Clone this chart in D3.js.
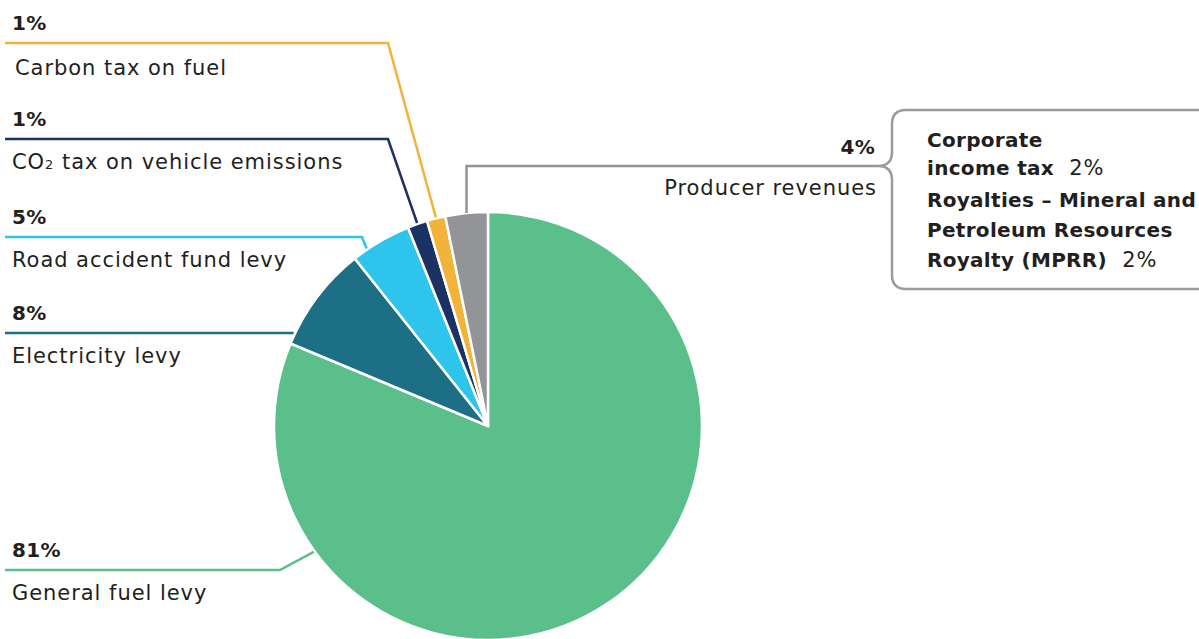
<!DOCTYPE html>
<html>
<head>
<meta charset="utf-8">
<script src="https://cdn.jsdelivr.net/npm/d3@7"></script>
<style>
  html, body { margin: 0; padding: 0; background: #fff; }
  svg { display: block; }
  text { font-family: "DejaVu Sans", sans-serif; fill: #231f20; font-size: 21px; letter-spacing: 0.95px; }
  .b { font-weight: 700; font-size: 20px; letter-spacing: 0.3px; }
</style>
</head>
<body>
<div class="o"></div>
<script>
(async () => {

  const width = 1199
  const height = 639

  // slices, clockwise from 12 o'clock
  const categories = ["General fuel levy", "Electricity levy", "Road accident fund levy",
    "CO2 tax on vehicle emissions", "Carbon tax on fuel", "Producer revenues"]
  const shares = [81.3, 8.0, 4.6, 1.5, 1.4, 3.2]
  const pctLabels = ["81%", "8%", "5%", "1%", "1%", "4%"]
  const colors = ["#5bbf8c", "#1c6f84", "#2fc4ec", "#1c3263", "#f2b33a", "#929497"]

  // producer revenues breakdown
  const subLines = [
    [{t: "Corporate", b: true}],
    [{t: "income tax", b: true}, {t: "  2%", b: false}],
    [{t: "Royalties \u2013 Mineral and", b: true}],
    [{t: "Petroleum Resources", b: true}],
    [{t: "Royalty (MPRR)", b: true}, {t: "  2%", b: false}]
  ]

  const cx = 488, cy = 426, r = 214

  // label layout for left-hand labels: line y, elbow x, where on the slice the leader ends
  const leftLabels = [
    {i: 0, y: 570, elbow: 280, at: 0.80},
    {i: 1, y: 333, elbow: null, at: 0.09},
    {i: 2, y: 237, elbow: 362, at: 0.25},
    {i: 3, y: 139, elbow: 388, at: 0.5},
    {i: 4, y: 43, elbow: 388, at: 0.5}
  ]

  const svg = d3.select(".o").append("svg")
    .attr("width", width)
    .attr("height", height)

  const pie = d3.pie().sort(null).value(d => d)
  const arcs = pie(shares)
  const arc = d3.arc().innerRadius(0).outerRadius(r)

  svg.append("g")
    .attr("transform", `translate(${cx},${cy})`)
    .selectAll("path")
    .data(arcs)
    .join("path")
      .attr("d", arc)
      .attr("fill", (d, i) => colors[i])
      .attr("stroke", "#fff")
      .attr("stroke-width", 2.5)
      .attr("stroke-linejoin", "round")

  const onArc = (a, rr) => [cx + rr * Math.sin(a), cy - rr * Math.cos(a)]

  const lines = svg.append("g").attr("fill", "none").attr("stroke-width", 2.5)

  leftLabels.forEach(l => {
    const s = arcs[l.i]
    const a = s.startAngle + (s.endAngle - s.startAngle) * l.at
    const p = onArc(a, r + 1)
    const pts = l.elbow == null ? [[5, l.y], [p[0], l.y]] : [[5, l.y], [l.elbow, l.y], p]
    lines.append("path")
      .attr("d", d3.line()(pts))
      .attr("stroke", colors[l.i])

    svg.append("text")
      .attr("class", "b")
      .attr("x", 12).attr("y", l.y - 13)
      .text(pctLabels[l.i])

    const t = svg.append("text")
      .attr("x", l.i === 4 ? 15 : 12).attr("y", l.y + (l.i === 4 ? 32 : 30))
    if (l.i === 3) {
      t.append("tspan").text("CO")
      t.append("tspan").style("font-size", "13px").text("2")
      t.append("tspan").text(" tax on vehicle emissions")
    } else {
      t.text(categories[l.i])
    }
  })

  // producer revenues leader + brace
  const g = arcs[5]
  const gp = onArc((g.startAngle + g.endAngle) / 2, r)
  const tipX = 878, tipY = 166
  lines.append("path")
    .attr("d", d3.line()([gp, [gp[0], tipY], [tipX, tipY]]))
    .attr("stroke", colors[5])

  const brace = d3.path()
  brace.moveTo(width, 110)
  brace.lineTo(906, 110)
  brace.quadraticCurveTo(892, 110, 892, 124)
  brace.lineTo(892, 152)
  brace.quadraticCurveTo(892, tipY, tipX, tipY)
  brace.quadraticCurveTo(892, tipY, 892, 180)
  brace.lineTo(892, 275)
  brace.quadraticCurveTo(892, 289, 906, 289)
  brace.lineTo(width, 289)
  lines.append("path")
    .attr("d", brace.toString())
    .attr("stroke", "#9b9b9b")

  svg.append("text")
    .attr("class", "b")
    .attr("x", 875).attr("y", 154)
    .attr("text-anchor", "end")
    .text(pctLabels[5])
  svg.append("text")
    .attr("x", 877).attr("y", 195)
    .attr("text-anchor", "end")
    .text(categories[5])

  svg.append("g")
    .selectAll("text")
    .data(subLines)
    .join("text")
      .attr("x", 927)
      .attr("y", (d, i) => [147, 175, 207, 237, 267][i])
      .selectAll("tspan")
      .data(d => d)
      .join("tspan")
        .attr("class", d => d.b ? "b" : null)
        .style("white-space", "pre")
        .text(d => d.t)

})()
</script>
</body>
</html>
